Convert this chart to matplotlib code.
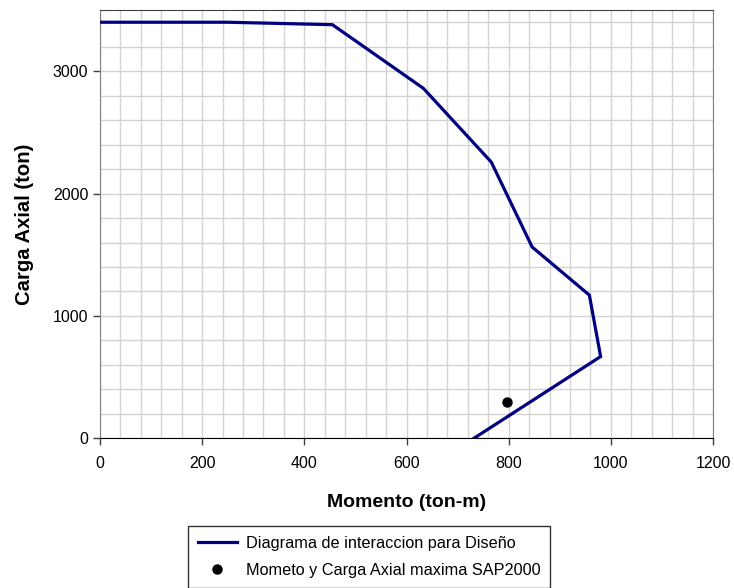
import matplotlib
matplotlib.use("Agg")
import matplotlib.pyplot as plt
from matplotlib.ticker import MultipleLocator

plt.rcParams['font.family'] = ['Liberation Sans', 'DejaVu Sans']

# diagrama de interaccion (momento, carga axial)
momento = [0, 250, 455, 633, 766, 846, 958, 980, 732]
carga = [3400, 3400, 3380, 2860, 2257, 1563, 1170, 668, 0]

# punto SAP2000
sap_m = [796]
sap_p = [295]

fig = plt.figure(figsize=(7.34, 5.88), dpi=100)
ax = fig.add_axes([100/734, 1 - 438.3/588, 613/734, 428.3/588])

ax.plot(momento, carga, color='#000080', lw=2.3, solid_joinstyle='miter',
        label='Diagrama de interaccion para Diseño', zorder=3)
ax.plot(sap_m, sap_p, 'o', color='black', ms=6.5, ls='none',
        label='Mometo y Carga Axial maxima SAP2000', zorder=4)

ax.set_xlim(0, 1200)
ax.set_ylim(0, 3500)
ax.xaxis.set_major_locator(MultipleLocator(200))
ax.xaxis.set_minor_locator(MultipleLocator(40))
ax.yaxis.set_major_locator(MultipleLocator(1000))
ax.yaxis.set_minor_locator(MultipleLocator(200))
ax.grid(True, which='both', color='#d3d3d3', lw=1.0, zorder=0)
ax.set_axisbelow(True)
ax.tick_params(which='minor', length=0)
ax.tick_params(which='major', direction='out', length=5, width=1,
               labelsize=11.5, color='#404040')
ax.tick_params(axis='x', pad=8)

for s in ['left', 'right', 'top']:
    ax.spines[s].set_color('#808080')
ax.spines['top'].set_color('#404040')
ax.spines['bottom'].set_color('black')

ax.set_xlabel('Momento (ton-m)', fontsize=14, fontweight='bold', labelpad=16)
ax.set_ylabel('Carga Axial (ton)', fontsize=14.6, fontweight='bold')
ax.yaxis.set_label_coords(-0.108, 0.5)

leg = fig.legend(loc='upper left', bbox_to_anchor=(188/734, 1 - 526/588),
                 fontsize=11.7, frameon=True, fancybox=False, edgecolor='black',
                 borderpad=0.6, borderaxespad=0, handlelength=2.4,
                 labelspacing=0.75, handletextpad=0.55)
leg.get_frame().set_linewidth(1.0)

fig.savefig('out.png', dpi=100)
